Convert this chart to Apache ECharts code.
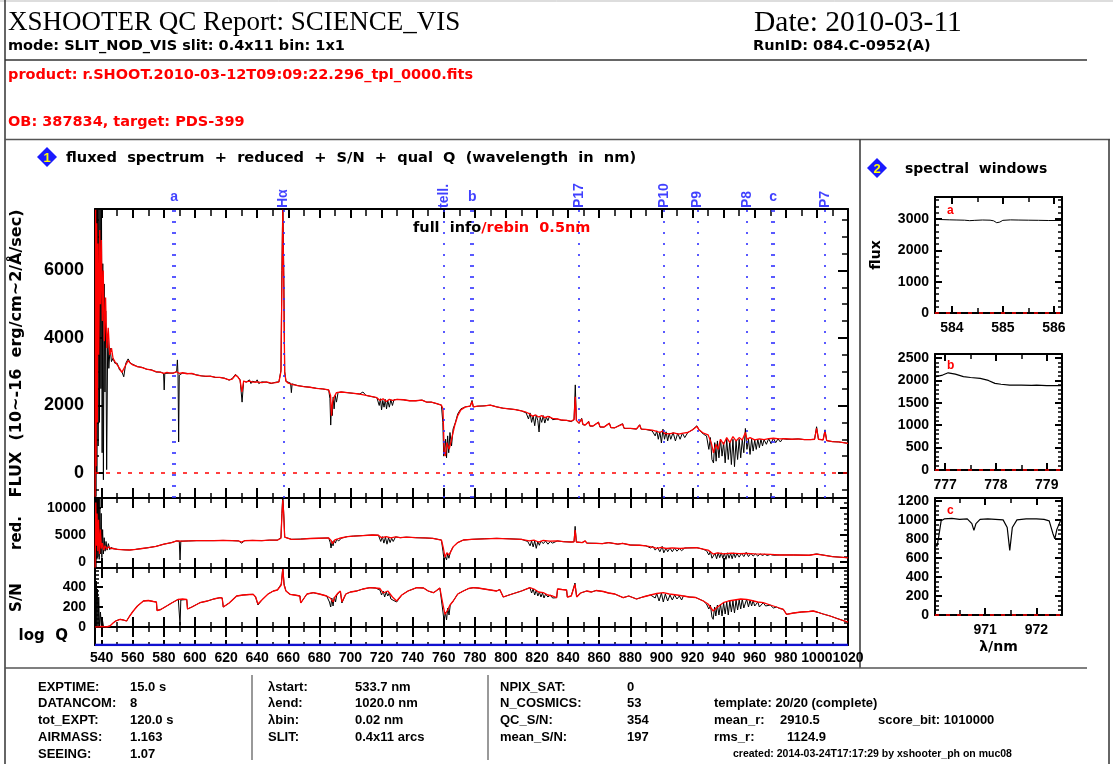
<!DOCTYPE html>
<html>

<head>
    <meta charset="utf-8">
    <title>XSHOOTER QC Report: SCIENCE_VIS</title>
    <script src="https://cdn.jsdelivr.net/npm/echarts@6.0.0/dist/echarts.min.js"></script>
</head>

<body style="margin:0;background:#fff">
    <div id="main" style="width:1113px;height:764px;"></div>
    <script type="text/javascript">
    // ----- data (wavelength nm, value)
    var fluxRebin = [
        [535.8, -700], [536.1, 7800], [536.4, 200], [536.8, 7400], [537.2, 1500], [537.6, 6800], [538.1, 3500], [538.7, 7200],
        [539.2, 5000], [539.8, 6900], [540.4, 4500], [541.0, 6000], [541.7, 3900], [542.5, 5200], [543.3, 3700], [544.2, 4300],
        [545.2, 3500], [546.3, 3700], [547.3, 3400], [548.5, 3300], [550, 3200], [551.5, 3100], [553, 2980], [554.2, 2950],
        [555.5, 3200], [557, 3330], [558.5, 3250], [560, 3200], [563, 3150], [566, 3120], [569, 3080], [572, 3050], [575, 3000],
        [578, 2980], [580, 2950], [582, 2980], [584, 2960], [586, 2960], [588, 3000], [590, 2950], [592, 2970], [595, 2940],
        [598, 2950], [601, 2900], [604, 2880], [607, 2870], [610, 2860], [613, 2840], [616, 2830], [619, 2800], [622, 2760],
        [624, 2780], [626, 2900], [627.5, 2850], [629, 2750], [630.2, 2400], [631.3, 2720], [633, 2700], [635, 2720], [637, 2690],
        [640, 2700], [643, 2680], [646, 2700], [649, 2660], [652, 2680], [654, 2700], [655.3, 3000], [655.9, 5500], [656.5, 7800],
        [657.1, 5500], [657.7, 3000], [658.5, 2720], [660, 2660], [663, 2620], [666, 2590], [670, 2560], [674, 2540], [678, 2510],
        [682, 2490], [686, 2460], [687.2, 2300], [687.8, 1700], [688.5, 2100], [689.5, 2250], [691, 2380], [694, 2400], [698, 2380],
        [702, 2360], [706, 2340], [710, 2300], [714, 2260], [717, 2230], [719, 2150], [721, 2200], [723, 2120], [725, 2180],
        [727, 2150], [730, 2180], [734, 2170], [738, 2140], [742, 2140], [746, 2160], [749, 2100], [752, 2100], [755, 2060],
        [758.5, 2010], [759.5, 1900], [760.3, 600], [761, 500], [762, 900], [763.5, 700], [765, 1000], [767, 1400], [769, 1700],
        [771, 1870], [774, 1960], [777, 1980], [778.2, 2120], [779, 1960], [782, 1980], [786, 1990], [790, 2010], [794, 1960],
        [798, 1920], [802, 1900], [806, 1880], [810, 1840], [813, 1800], [815, 1760], [817, 1680], [819, 1720], [821, 1660],
        [823, 1700], [825, 1640], [827, 1680], [830, 1620], [833, 1600], [836, 1570], [839, 1560], [842, 1540], [843.8, 1580],
        [844.6, 2260], [845.3, 1560], [847, 1480], [848.7, 1600], [849.5, 1450], [851, 1420], [853.2, 1520], [854, 1400],
        [856, 1390], [859.5, 1500], [860.5, 1370], [863, 1360], [866.5, 1470], [867.5, 1350], [870, 1340], [875, 1450], [876, 1330],
        [880, 1320], [884, 1310], [886, 1420], [887, 1300], [890, 1290], [894, 1270], [897, 1230], [899, 1200], [901, 1250],
        [902, 1170], [905, 1160], [908, 1190], [911, 1150], [914, 1180], [917, 1200], [920, 1280], [922.8, 1380], [924, 1290],
        [927, 1180], [930, 1130], [932, 900], [933.5, 600], [935, 850], [936.5, 700], [938, 1000], [940, 850], [942, 1050],
        [944, 900], [946, 1080], [948, 950], [950, 1050], [952, 980], [954, 1200], [955, 1000], [957, 1050], [960, 980],
        [963, 1010], [966, 990], [969, 1020], [972, 1030], [976, 1010], [980, 1020], [984, 1000], [988, 1010], [992, 990],
        [996, 990], [998.5, 1000], [999.8, 1320], [1001, 1000], [1004, 980], [1005.2, 1230], [1006.3, 960], [1010, 930],
        [1014, 920], [1017, 900], [1020, 880]
    ];
    var fluxFull = [
        [535.8, -700], [536.0, 9000], [536.3, -700], [536.6, 9000], [536.9, 0], [537.3, 9000], [537.7, 800], [538.2, 9000],
        [538.6, 1500], [539.0, 9000], [539.5, 2500], [539.9, 7700], [540.3, 600], [540.7, 6200], [541.1, -200], [541.6, 5600],
        [542.1, 2400], [542.6, 4800], [543.2, 100], [543.9, 4100], [544.6, 3100], [545.4, 3700], [546.3, 3300], [547.3, 3400],
        [548.5, 3250], [550, 3250], [551.5, 3050], [553, 3000], [554.2, 2850], [555.5, 3250], [557, 3380], [558.5, 3250],
        [560, 3220], [563, 3150], [566, 3130], [569, 3070], [572, 3060], [575, 2990], [578, 2990], [579.8, 2950], [580.2, 2460],
        [580.6, 2950], [584, 2960], [586, 2960], [588.2, 3000], [588.7, 3350], [589.1, 2900], [589.5, 920], [589.9, 2900],
        [592, 2960], [595, 2950], [598, 2940], [601, 2910], [604, 2880], [607, 2860], [610, 2870], [613, 2830], [616, 2830],
        [619, 2810], [622, 2750], [624, 2800], [626, 2920], [627.5, 2860], [629, 2760], [630.3, 2100], [631.3, 2720], [633, 2690],
        [635, 2760], [636, 2650], [637, 2720], [639, 2690], [640, 2760], [641, 2650], [643, 2700], [646, 2690], [649, 2650],
        [652, 2690], [654, 2700], [655.3, 3050], [655.9, 6000], [656.5, 8200], [657.1, 6000], [657.7, 3000], [658.5, 2720],
        [661.5, 2660], [662, 2380], [662.5, 2640], [666, 2590], [670, 2560], [674, 2540], [678, 2510], [682, 2490], [686, 2460],
        [686.8, 2200], [687.3, 1420], [687.8, 2000], [688.3, 1700], [688.9, 2250], [689.5, 1900], [690.2, 2300], [691, 2100],
        [692, 2380], [694, 2400], [698, 2380], [702, 2360], [706, 2340], [708, 2400], [710, 2300], [714, 2260], [717, 2230],
        [718.5, 2000], [719.3, 2200], [720, 1870], [720.8, 2150], [721.6, 1950], [722.4, 2180], [723.2, 1900], [724, 2150],
        [725, 1950], [726, 2170], [727, 2000], [728, 2170], [730, 2180], [734, 2170], [738, 2140], [742, 2140], [746, 2160],
        [749, 2100], [752, 2100], [755, 2060], [758.5, 2010], [759.4, 1500], [760, 500], [760.6, 444], [761.2, 1000],
        [761.8, 450], [762.5, 1100], [763.2, 600], [764, 1200], [765, 800], [766, 1300], [767.5, 1500], [769, 1750], [771, 1900],
        [774, 1960], [777, 1980], [778.2, 2150], [779, 1960], [782, 1980], [786, 1990], [790, 2010], [794, 1960], [798, 1920],
        [802, 1900], [806, 1880], [810, 1840], [813, 1780], [814.5, 1600], [815.5, 1780], [816.5, 1500], [817.5, 1700],
        [818.5, 1400], [819.5, 1720], [820.5, 1550], [821.3, 1215], [822, 1650], [823, 1500], [824, 1700], [825, 1480],
        [826, 1650], [827, 1550], [828, 1680], [830, 1580], [833, 1600], [836, 1560], [839, 1560], [842, 1520], [843.8, 1580],
        [844.6, 2610], [845.3, 1560], [847, 1470], [848.7, 1620], [849.5, 1430], [851, 1420], [853.2, 1530], [854, 1390],
        [856, 1390], [859.5, 1510], [860.5, 1360], [863, 1360], [866.5, 1480], [867.5, 1340], [870, 1340], [875, 1460],
        [876, 1320], [880, 1320], [884, 1300], [886, 1430], [887, 1300], [890, 1290], [894, 1250], [896, 1100], [897, 1250],
        [898, 1000], [899, 1220], [900, 889], [901, 1300], [902, 1000], [903, 1220], [904, 950], [905, 1180], [906, 1000],
        [907.5, 1200], [909, 950], [910.5, 1180], [912, 1000], [913.5, 1180], [915, 1050], [917, 1200], [920, 1280], [922.8, 1400],
        [924, 1290], [927, 1150], [929, 1100], [930.5, 700], [931.5, 1050], [932.5, 400], [933.5, 296], [934.3, 900], [935.2, 350],
        [936, 950], [937, 450], [938, 1000], [939, 500], [940, 900], [941, 300], [942, 1000], [943, 400], [944, 950], [945, 250],
        [946, 1000], [947, 188], [948, 950], [949, 400], [950, 1000], [951, 450], [952, 1000], [953, 600], [954, 1320], [955, 700],
        [956, 1000], [957, 550], [958, 1000], [959, 650], [960, 980], [961, 700], [962, 1000], [963, 750], [964, 1000], [965, 800],
        [966, 990], [967.5, 850], [969, 1020], [970.5, 870], [972, 1030], [973.5, 900], [975, 1010], [976.5, 920], [978, 1020],
        [980, 1000], [984, 1000], [988, 1010], [992, 990], [996, 990], [998.5, 1000], [999.8, 1370], [1001, 1000], [1004, 980],
        [1005.2, 1280], [1006.3, 960], [1010, 930], [1014, 920], [1017, 900], [1020, 880]
    ];
    var redRebin = [
        [535.8, -1000], [536.2, 11000], [536.6, 3000], [537.0, 9000], [537.5, 2000], [538.0, 7800], [538.6, 1500], [539.2, 6000],
        [539.8, 2500], [540.5, 3500], [541.3, 2200], [542.2, 3000], [543.2, 2400], [544.5, 2800], [546, 2500], [547.5, 2500],
        [550, 2350], [555, 2250], [558, 2220], [562, 2350], [566, 2500], [570, 2650], [575, 2900], [580, 3300], [585, 3600],
        [588.2, 3900], [592, 3850], [596, 3900], [601, 3950], [606, 3950], [612, 3950], [618, 4000], [624, 3950], [628, 3900],
        [630, 3700], [632, 3950], [637, 4000], [643, 3950], [648, 4050], [653, 4050], [655.3, 4400], [655.9, 8500], [656.5, 11500],
        [657.1, 8500], [657.7, 4600], [658.8, 4250], [662, 4200], [668, 4250], [674, 4350], [680, 4400], [686, 4450], [687.5, 4000],
        [688.5, 3400], [690, 4100], [693, 4400], [698, 4700], [702, 4800], [708, 4900], [714, 5000], [718, 4950], [720, 4500],
        [723, 4700], [726, 4450], [729, 4650], [732, 4500], [736, 4600], [742, 4500], [748, 4450], [753, 4380], [758.5, 4070],
        [759.8, 2500], [760.8, 900], [762, 1700], [763.5, 1300], [766, 2800], [769, 3600], [772.6, 4070], [778, 4200], [786, 4300],
        [794, 4380], [802, 4300], [810, 4200], [815, 3900], [818, 4050], [821, 3700], [824, 4000], [828, 3850], [833, 3900],
        [837, 3760], [842, 3700], [843.8, 3750], [844.5, 5930], [845.3, 3700], [849, 3600], [851, 3900], [852, 3500], [858, 3460],
        [862, 3400], [866, 3600], [867, 3350], [872, 3300], [875, 3450], [876, 3250], [880, 3150], [886, 3100], [890, 3000],
        [895, 2700], [897, 2530], [900, 2700], [903, 2500], [907, 2600], [912, 2500], [917, 2600], [922.7, 2650], [926, 2450],
        [930, 2200], [933.3, 1480], [936, 1700], [940, 1500], [945, 1650], [950, 1550], [955, 1610], [960, 1500], [965, 1450],
        [970, 1400], [976, 1300], [985, 1300], [995, 1250], [999.8, 1450], [1001, 1250], [1010, 1000], [1019, 800], [1020, 780]
    ];
    var redFull = [
        [535.8, -1100], [536.0, 14000], [536.3, -1100], [536.6, 14000], [536.9, 500], [537.2, 14000], [537.6, 1000], [538.0, 13000],
        [538.4, 500], [538.8, 12000], [539.2, 1500], [539.7, 9000], [540.1, 800], [540.6, 6000], [541.1, 1500], [541.6, 4500],
        [542.2, 2000], [542.8, 3800], [543.5, 2200], [544.3, 3400], [545.2, 2300], [546.2, 2700], [547.5, 2450], [550, 2350],
        [555, 2250], [558, 2220], [562, 2350], [566, 2500], [570, 2650], [575, 2900], [580, 3300], [585, 3600], [588.2, 3900],
        [589.9, 3850], [590.4, 370], [590.9, 3850], [596, 3900], [601, 3950], [606, 3950], [612, 3950], [618, 4000], [624, 3950],
        [628, 3900], [630, 3500], [632, 3950], [637, 4000], [643, 3950], [648, 4050], [653, 4050], [655.3, 4500], [655.9, 9000],
        [656.5, 12500], [657.1, 9000], [657.7, 4600], [658.8, 4250], [662, 4200], [668, 4250], [674, 4350], [680, 4400],
        [686, 4450], [687.0, 3600], [687.5, 2590], [688.2, 3800], [688.8, 3000], [689.5, 4000], [690.3, 3500], [691.2, 4200],
        [692.5, 3900], [694, 4400], [698, 4700], [702, 4800], [708, 4900], [714, 5000], [718, 4950], [719.5, 3800], [720.5, 4700],
        [721.5, 3500], [722.5, 4600], [723.5, 3300], [724.5, 4500], [725.5, 3600], [726.5, 4400], [727.5, 3800], [729, 4650],
        [732, 4500], [736, 4600], [742, 4500], [748, 4450], [753, 4380], [758.5, 4070], [759.5, 2000], [760.2, 370], [761, 1000],
        [761.8, 400], [762.5, 1500], [763.3, 700], [764.2, 1800], [765.2, 1500], [766, 2800], [769, 3600], [772.6, 4070],
        [778, 4200], [786, 4300], [794, 4380], [802, 4300], [810, 4200], [814, 3800], [815.5, 3000], [816.5, 3900], [817.5, 2800],
        [818.5, 3900], [819.5, 2530], [820.5, 3800], [821.5, 3100], [822.5, 3900], [824, 3400], [825.5, 3900], [827, 3300],
        [828.5, 3800], [830, 3500], [833, 3900], [837, 3760], [842, 3700], [843.8, 3750], [844.5, 6600], [845.3, 3700], [849, 3600],
        [851, 3900], [852, 3500], [858, 3460], [862, 3400], [866, 3600], [867, 3350], [872, 3300], [875, 3450], [876, 3250],
        [880, 3150], [886, 3100], [890, 3000], [893, 2600], [894.5, 2900], [896, 2200], [897.5, 2700], [899, 1900], [900.5, 2900],
        [901.5, 1700], [903, 2600], [904, 1900], [905.5, 2600], [907, 1900], [908.5, 2600], [910, 2000], [911.5, 2500],
        [913, 2100], [915, 2600], [917, 2600], [922.7, 2650], [926, 2450], [929, 2100], [930.5, 1300], [931.5, 2000], [932.5, 700],
        [933.5, 370], [934.5, 1600], [935.5, 600], [936.5, 1700], [937.5, 800], [938.5, 1700], [939.5, 700], [940.5, 1600],
        [941.5, 500], [942.5, 1700], [943.5, 700], [944.5, 1600], [945.5, 600], [946.5, 1700], [947.5, 800], [948.5, 1600],
        [950, 900], [951.5, 1600], [953, 1000], [954.5, 1800], [956, 1000], [957.5, 1600], [959, 1100], [960.5, 1500], [962, 1100],
        [963.5, 1500], [965, 1200], [966.5, 1450], [968, 1200], [970, 1400], [972, 1250], [976, 1300], [985, 1300], [995, 1250],
        [999.8, 1500], [1001, 1250], [1010, 1000], [1019, 800], [1020, 780]
    ];
    var snRebin = [
        [535.8, 0], [538, 0], [540, 5], [543, 0], [545.3, 10], [547.5, 43], [549, 60], [551.8, 77], [554, 70], [556, 60], [558, 110],
        [560.3, 160], [563, 210], [566.8, 260], [570, 265], [573.2, 255], [575.2, 250], [575.6, 165], [578, 175], [581.8, 210],
        [585, 240], [589.3, 277], [592, 280], [594.7, 275], [595.2, 180], [598, 200], [603.2, 243], [608, 260], [612, 280],
        [616.1, 293], [617.5, 290], [618.2, 200], [622, 240], [626.8, 310], [631, 320], [635, 325], [637.5, 327], [639, 300],
        [640.5, 230], [643, 270], [647, 330], [650.4, 360], [653, 370], [655.5, 420], [656.5, 580], [657.3, 420], [658.5, 360],
        [661.1, 327], [664, 320], [667.5, 310], [668, 240], [672, 330], [676.1, 343], [680, 330], [684.7, 310], [687, 290],
        [688.8, 250], [690, 300], [692, 340], [693.5, 360], [694.5, 250], [697, 330], [700, 350], [704, 360], [708, 380],
        [712.5, 393], [716, 390], [719, 385], [721, 340], [724, 360], [727, 300], [729.7, 260], [733, 320], [737, 360], [742.6, 393],
        [747, 390], [750, 360], [753.3, 343], [755, 360], [757.5, 390], [758.7, 377], [759.8, 200], [760.8, 127], [762.5, 170],
        [764, 220], [766.1, 260], [769, 330], [772.6, 360], [776, 385], [779, 393], [782, 390], [786, 380], [790, 370], [794, 360],
        [794.5, 380], [796, 375], [798.3, 300], [802, 320], [806, 340], [810, 360], [815.4, 393], [818, 380], [821, 350], [824, 343],
        [827, 320], [830, 310], [832.6, 293], [833.2, 380], [836, 375], [839, 370], [839.5, 300], [842, 310], [844.4, 427],
        [845.5, 300], [848, 340], [851.9, 360], [855, 350], [858, 365], [862.6, 355], [866, 340], [870, 330], [875.4, 293],
        [879, 310], [884, 280], [888, 300], [893, 320], [897, 335], [901.2, 343], [905, 330], [910, 320], [914.1, 310], [918, 300],
        [922, 295], [927, 260], [930, 230], [933.3, 160], [936, 200], [939.8, 243], [943, 260], [947, 270], [951, 280], [954.8, 277],
        [958, 265], [962, 250], [965.5, 243], [970, 220], [974, 200], [978.4, 177], [980.5, 127], [985, 140], [990, 150], [995, 155],
        [997.6, 160], [1000, 150], [1004, 130], [1008.5, 110], [1013, 85], [1019, 53], [1020, 50]
    ];
    var snFull = [
        [535.8, 0], [536.0, 520], [536.3, 0], [536.6, 460], [536.9, 0], [537.3, 380], [537.7, 0], [538.1, 300], [538.6, 0],
        [539.2, 150], [539.8, 0], [540.5, 70], [541.2, 0], [543, 0], [545.3, 10], [547.5, 43], [549, 60], [551.8, 77], [554, 70],
        [556, 60], [558, 110], [560.3, 160], [563, 210], [566.8, 260], [570, 265], [573.2, 255], [575.2, 250], [575.6, 165],
        [578, 175], [581.8, 210], [585, 240], [589.3, 277], [589.9, 270], [590.4, 20], [590.9, 270], [592, 280], [594.7, 275],
        [595.2, 180], [598, 200], [603.2, 243], [608, 260], [612, 280], [616.1, 293], [617.5, 290], [618.2, 200], [622, 240],
        [626.8, 310], [631, 320], [635, 325], [637.5, 327], [639, 300], [640.5, 220], [643, 270], [647, 330], [650.4, 360],
        [653, 370], [655.5, 430], [656.5, 600], [657.3, 430], [658.5, 360], [661.1, 327], [664, 320], [667.5, 310], [668, 240],
        [672, 330], [676.1, 343], [680, 330], [684.7, 310], [686.5, 250], [687.3, 200], [688, 290], [688.8, 210], [689.6, 300],
        [690.4, 250], [691.2, 320], [692, 300], [693.5, 360], [694.5, 240], [697, 330], [700, 350], [704, 360], [708, 380],
        [712.5, 393], [716, 390], [719, 370], [720, 320], [721, 360], [722, 300], [723, 350], [724, 310], [725, 340], [726, 280],
        [727, 300], [729.7, 250], [733, 320], [737, 360], [742.6, 393], [747, 390], [750, 360], [753.3, 343], [755, 360],
        [757.5, 390], [758.7, 377], [759.5, 150], [760.2, 60], [761, 150], [761.8, 70], [762.6, 190], [763.4, 120], [764.2, 220],
        [766.1, 260], [769, 330], [772.6, 360], [776, 385], [779, 393], [782, 390], [786, 380], [790, 370], [794, 360], [794.5, 380],
        [796, 375], [798.3, 300], [802, 320], [806, 340], [810, 360], [815.4, 393], [816.5, 340], [817.5, 380], [818.5, 320],
        [819.5, 370], [820.5, 310], [821.5, 350], [822.5, 300], [823.5, 340], [824.5, 290], [825.5, 330], [827, 300], [828.5, 320],
        [830, 290], [832.6, 293], [833.2, 380], [836, 375], [839, 370], [839.5, 300], [842, 310], [844.4, 440], [845.5, 300],
        [848, 340], [851.9, 360], [855, 350], [858, 365], [862.6, 355], [866, 340], [870, 330], [875.4, 293], [879, 310], [884, 280],
        [888, 300], [893, 320], [896, 290], [897, 335], [898.5, 260], [900, 340], [901.2, 250], [902.5, 330], [904, 260],
        [905.5, 320], [907, 270], [908.5, 320], [910, 280], [911.5, 310], [913, 270], [914.1, 310], [918, 300], [922, 295],
        [927, 260], [929, 230], [930.5, 180], [931.5, 220], [932.5, 100], [933.3, 77], [934.2, 200], [935, 110], [936, 220],
        [937, 120], [938, 230], [939, 110], [940, 240], [941, 130], [942, 250], [943, 120], [944, 260], [945, 150], [946, 260],
        [947, 140], [948, 270], [949, 170], [950, 270], [951, 180], [952, 280], [953, 190], [954.8, 277], [956, 200], [957, 270],
        [958, 210], [959, 265], [960, 210], [962, 250], [963, 200], [965.5, 243], [967, 210], [970, 220], [972, 190], [974, 200],
        [976, 185], [978.4, 177], [980.5, 127], [985, 140], [990, 150], [995, 155], [997.6, 160], [1000, 150], [1004, 130],
        [1008.5, 110], [1013, 85], [1019, 53], [1020, 50]
    ];
    var qualQ = [[535.7, 0], [1020, 0]];

    // line identifications along the top of the flux panel
    var markerWave = [585.6, 587.1, 656.8, 760.1, 777.3, 778.9, 847.0, 901.7, 923.1, 954.9, 970.9, 972.4, 1005.2];
    var lineName = ['a', 'Hα', 'tell.', 'b', 'P17', 'P10', 'P9', 'P8', 'c', 'P7'];
    var lineWave = [586.6, 656.8, 760.1, 778.4, 847.0, 901.7, 923.1, 954.9, 971.9, 1005.2];
    var lineRot = [0, 90, 90, 0, 90, 90, 90, 90, 0, 90];

    // spectral windows a, b, c
    var winA = [[583.68, 2985], [583.8, 2980], [583.95, 2972], [584.1, 2966], [584.25, 2960], [584.35, 2945], [584.45, 2955],
        [584.6, 2966], [584.75, 2960], [584.82, 2940], [584.88, 2880], [584.94, 2900], [585.0, 2955], [585.15, 2970],
        [585.3, 2965], [585.5, 2960], [585.7, 2956], [585.9, 2950], [586.15, 2950]];
    var winB = [[776.8, 2080], [776.95, 2120], [777.06, 2170], [777.2, 2140], [777.36, 2085], [777.5, 2065], [777.69, 2045],
        [777.85, 2000], [777.98, 1935], [778.1, 1915], [778.27, 1897], [778.5, 1895], [778.7, 1890], [778.8, 1895],
        [779.0, 1885], [779.3, 1882]];
    var winC = [[970.02, 760], [970.06, 720], [970.1, 850], [970.14, 990], [970.2, 1010], [970.35, 1015], [970.5, 1005],
        [970.65, 1010], [970.74, 960], [970.78, 890], [970.82, 960], [970.9, 1005], [971.05, 1010], [971.2, 1005],
        [971.35, 1000], [971.43, 920], [971.48, 680], [971.53, 920], [971.62, 1000], [971.8, 1010], [972.0, 1010],
        [972.15, 1005], [972.25, 990], [972.32, 860], [972.36, 800], [972.4, 900], [972.47, 990]];

    var NUM = '"Liberation Sans", Arial, sans-serif';
    var TXT = '"DejaVu Sans", sans-serif';
    var FLUX_MAX = 7820;

    var myChart = echarts.init(document.getElementById('main'));

    // one helper for every axis, most of them are just frame + ticks
    function ax(o) {
        var a = {
            type: 'value',
            gridIndex: o.grid,
            position: o.pos,
            min: o.min,
            max: o.max,
            axisLine: { show: true, onZero: false, lineStyle: { color: '#000', width: 2 } },
            axisTick: { show: !!o.tick, inside: true, length: o.tick || 0, lineStyle: { color: '#000', width: 2 } },
            minorTick: { show: !!o.minor, splitNumber: o.minorSplit || 2, length: o.minor || 0, lineStyle: { color: '#000', width: 1.5 } },
            splitLine: { show: false },
            minorSplitLine: { show: false },
            axisPointer: { show: false },
            axisLabel: { show: false }
        };
        if (o.interval) a.interval = o.interval;
        else a.splitNumber = o.split;
        if (o.step) {
            a.axisLabel = {
                show: true, color: '#000', fontFamily: NUM, fontWeight: 'bold', fontSize: o.fs || 14,
                margin: o.margin || 8, hideOverlap: false,
                formatter: function (v) {
                    var k = v / o.step;
                    return Math.abs(k - Math.round(k)) < 1e-6 ? String(Math.round(v)) : '';
                }
            };
        }
        if (o.name) {
            a.name = o.name;
            a.nameLocation = 'middle';
            a.nameGap = o.nameGap;
            a.nameRotate = o.nameRotate;
            a.nameTextStyle = { color: '#000', fontFamily: TXT, fontWeight: 'bold', fontSize: o.nameSize || 14 };
        }
        return a;
    }

    var X0 = 535.7, X1 = 1020;
    var xAxes = [
        ax({ grid: 0, pos: 'bottom', min: X0, max: X1, split: 24, tick: 10, minor: 5 }),
        ax({ grid: 0, pos: 'top', min: X0, max: X1, split: 24, tick: 9, minor: 7 }),
        ax({ grid: 1, pos: 'bottom', min: X0, max: X1, split: 24, tick: 10, minor: 5 }),
        ax({ grid: 1, pos: 'top', min: X0, max: X1, split: 24, tick: 10, minor: 5 }),
        ax({ grid: 2, pos: 'bottom', min: X0, max: X1, split: 24, tick: 10, minor: 5 }),
        ax({ grid: 2, pos: 'top', min: X0, max: X1, split: 24, tick: 10, minor: 5 }),
        ax({ grid: 3, pos: 'bottom', min: X0, max: X1, split: 24, tick: 5, minor: 3, step: 20, fs: 14, margin: 6 }),
        ax({ grid: 3, pos: 'top', min: X0, max: X1, split: 24, tick: 10, minor: 5 }),
        ax({ grid: 4, pos: 'bottom', min: 583.67, max: 586.16, split: 2, tick: 7, minor: 5, step: 1, margin: 8 }),
        ax({ grid: 4, pos: 'top', min: 583.67, max: 586.16, split: 2, tick: 7, minor: 5 }),
        ax({ grid: 5, pos: 'bottom', min: 776.8, max: 779.3, split: 2, tick: 7, minor: 5, step: 1, margin: 8 }),
        ax({ grid: 5, pos: 'top', min: 776.8, max: 779.3, split: 2, tick: 7, minor: 5 }),
        ax({ grid: 6, pos: 'bottom', min: 970.02, max: 972.5, split: 2, tick: 7, minor: 5, step: 1, margin: 8,
            name: 'λ/nm', nameGap: 25, nameSize: 14 }),
        ax({ grid: 6, pos: 'top', min: 970.02, max: 972.5, split: 2, tick: 7, minor: 5 })
    ];
    var yAxes = [
        ax({ grid: 0, pos: 'left', min: -740, max: FLUX_MAX, split: 4, tick: 8, minor: 4, minorSplit: 4, step: 2000, fs: 18, margin: 11,
            name: 'FLUX  (10~-16  erg/cm~2/Å/sec)', nameGap: 70, nameRotate: 90, nameSize: 16 }),
        ax({ grid: 0, pos: 'right', min: -740, max: FLUX_MAX, split: 4, tick: 10, minor: 6, minorSplit: 4 }),
        ax({ grid: 1, pos: 'left', min: -1110, max: 11850, split: 3, tick: 6, minor: 3, minorSplit: 5, step: 5000, fs: 14, margin: 9,
            name: 'red.', nameGap: 70, nameRotate: 90, nameSize: 15 }),
        ax({ grid: 1, pos: 'right', min: -1110, max: 11850, split: 3, tick: 8, minor: 4, minorSplit: 5 }),
        ax({ grid: 2, pos: 'left', min: 0, max: 590, interval: 200, tick: 8, minor: 4, minorSplit: 5, step: 200, fs: 14, margin: 9,
            name: 'S/N', nameGap: 70, nameRotate: 90, nameSize: 15 }),
        ax({ grid: 2, pos: 'right', min: 0, max: 590, interval: 200, tick: 8, minor: 4, minorSplit: 5 }),
        ax({ grid: 3, pos: 'left', min: 0, max: 1, interval: 1, name: 'log  Q', nameGap: 27, nameRotate: 0, nameSize: 15 }),
        ax({ grid: 3, pos: 'right', min: 0, max: 1, interval: 1 }),
        ax({ grid: 4, pos: 'left', min: 0, max: 3700, interval: 1000, tick: 7, minor: 4, minorSplit: 5, step: 1000, margin: 6,
            name: 'flux', nameGap: 52, nameRotate: 90, nameSize: 14 }),
        ax({ grid: 4, pos: 'right', min: 0, max: 3700, interval: 1000, tick: 7, minor: 4, minorSplit: 5 }),
        ax({ grid: 5, pos: 'left', min: 0, max: 2590, interval: 500, tick: 7, minor: 4, minorSplit: 5, step: 500, margin: 6 }),
        ax({ grid: 5, pos: 'right', min: 0, max: 2590, interval: 500, tick: 7, minor: 4, minorSplit: 5 }),
        ax({ grid: 6, pos: 'left', min: 0, max: 1230, interval: 200, tick: 7, minor: 4, minorSplit: 4, step: 200, margin: 6 }),
        ax({ grid: 6, pos: 'right', min: 0, max: 1230, interval: 200, tick: 7, minor: 4, minorSplit: 4 })
    ];

    function spec(g, data, color, width, z) {
        return {
            type: 'line', xAxisIndex: 2 * g, yAxisIndex: 2 * g, data: data, showSymbol: false, symbol: 'none',
            clip: true, z: z, silent: true, lineStyle: { color: color, width: width }
        };
    }
    function zeroLine(s) {
        s.markLine = {
            silent: true, symbol: ['none', 'none'], label: { show: false }, animation: false,
            lineStyle: { color: '#ff0000', type: [4, 7], width: 1.5, opacity: 1 },
            emphasis: { disabled: true },
            data: [{ yAxis: 0 }]
        };
        return s;
    }

    var fluxBlack = spec(0, fluxFull, '#000', 1, 2);
    fluxBlack.markLine = {
        silent: true, symbol: ['none', 'none'], label: { show: false }, animation: false,
        lineStyle: { color: '#3030ff', type: [2, 9], width: 1.6 },
        data: markerWave.map(function (w) { return { xAxis: w }; })
    };

    var series = [
        fluxBlack,
        zeroLine(spec(0, fluxRebin, '#ff0000', 1.3, 3)),
        spec(1, redFull, '#000', 1, 2),
        spec(1, redRebin, '#ff0000', 1.3, 3),
        spec(2, snFull, '#000', 1, 2),
        spec(2, snRebin, '#ff0000', 1.3, 3),
        spec(3, qualQ, '#1010d0', 2.5, 4),
        zeroLine(spec(4, winA, '#000', 1, 3)),
        zeroLine(spec(5, winB, '#000', 1.2, 3)),
        zeroLine(spec(6, winC, '#000', 1.2, 3)),
        {
            type: 'scatter', xAxisIndex: 0, yAxisIndex: 0, symbolSize: 0, clip: false, silent: true, z: 5,
            data: lineWave.map(function (w, i) {
                var rot = lineRot[i];
                return {
                    value: [w, FLUX_MAX],
                    label: rot ? { rotate: 90, align: 'left', verticalAlign: 'middle', distance: 1 }
                        : { distance: 5 }
                };
            }),
            label: {
                show: true, position: 'top', color: '#1010ff', fontFamily: NUM, fontWeight: 'bold', fontSize: 14,
                formatter: function (p) { return lineName[p.dataIndex]; }
            }
        }
    ];

    // ----- page furniture: header, footer, frames
    function txt(x, y, s, font, color, extra) {
        var st = { text: s, font: font, fill: color || '#000', verticalAlign: 'middle' };
        if (extra) for (var k in extra) st[k] = extra[k];
        return { type: 'text', x: x, y: y, silent: true, style: st };
    }
    function ln(x1, y1, x2, y2, c, w) {
        return { type: 'line', silent: true, shape: { x1: x1, y1: y1, x2: x2, y2: y2 }, style: { stroke: c || '#333', lineWidth: w || 1.5 } };
    }
    function badge(cx, cy, n) {
        return [
            { type: 'polygon', silent: true, shape: { points: [[cx, cy - 10], [cx + 10, cy], [cx, cy + 10], [cx - 10, cy]] }, style: { fill: '#1a1aff' } },
            txt(cx, cy + 1, n, 'bold 13px ' + NUM, '#ffff00', { align: 'center' })
        ];
    }
    var SERIF = '27px "Liberation Serif", serif';
    var HB = 'bold 14.5px ' + TXT;
    var FB = 'bold 13px ' + NUM;

    var footRows = [687, 703.5, 720, 737, 754];
    var col1 = ['EXPTIME:', 'DATANCOM:', 'tot_EXPT:', 'AIRMASS:', 'SEEING:'];
    var val1 = ['15.0 s', '8', '120.0 s', '1.163', '1.07'];
    var col2 = ['λstart:', 'λend:', 'λbin:', 'SLIT:'];
    var val2 = ['533.7 nm', '1020.0 nm', '0.02 nm', '0.4x11 arcs'];
    var col3 = ['NPIX_SAT:', 'N_COSMICS:', 'QC_S/N:', 'mean_S/N:'];
    var val3 = ['0', '53', '354', '197'];

    var graphic = [
        ln(0, 1, 1113, 1, '#bbb', 1),
        ln(5, 0, 5, 764, '#333', 1.5),
        ln(5, 60, 1087, 60, '#333', 1.5),
        ln(5, 139.5, 1110, 139.5, '#555', 1.5),
        ln(860, 139.5, 860, 668, '#333', 1.5),
        ln(1109, 139.5, 1109, 764, '#333', 1.5),
        ln(5, 668, 1087, 668, '#555', 1.5),
        ln(252, 675, 252, 760, '#555', 1.2),
        ln(488, 675, 488, 760, '#555', 1.2),
        txt(8, 23, 'XSHOOTER QC Report: SCIENCE_VIS', SERIF),
        txt(754, 23, 'Date: 2010-03-11', '29.5px "Liberation Serif", serif'),
        txt(8, 46, 'mode: SLIT_NOD_VIS slit: 0.4x11 bin: 1x1', HB),
        txt(753, 46, 'RunID: 084.C-0952(A)', HB),
        txt(8, 75, 'product: r.SHOOT.2010-03-12T09:09:22.296_tpl_0000.fits', HB, '#ff0000'),
        txt(8, 122, 'OB: 387834, target: PDS-399', HB, '#ff0000'),
        txt(66, 158, 'fluxed  spectrum  +  reduced  +  S/N  +  qual  Q  (wavelength  in  nm)', 'bold 14.6px ' + TXT),
        txt(905, 169, 'spectral  windows', 'bold 14px ' + TXT),
        {
            type: 'text', x: 413, y: 228, silent: true, z: 10,
            style: {
                text: '{k|full  info}{r|/rebin  0.5nm}', verticalAlign: 'middle',
                rich: {
                    k: { fill: '#000', font: 'bold 14.5px ' + TXT },
                    r: { fill: '#ff0000', font: 'bold 14.5px ' + TXT }
                }
            }
        },
        txt(947, 211, 'a', 'bold 12px ' + NUM, '#ff0000'),
        txt(947, 366, 'b', 'bold 12px ' + NUM, '#ff0000'),
        txt(947, 511, 'c', 'bold 12px ' + NUM, '#ff0000'),
        txt(714, 703.5, 'template: 20/20 (complete)', FB),
        txt(714, 720, 'mean_r:', FB),
        txt(780, 720, '2910.5', FB),
        txt(878, 720, 'score_bit: 1010000', FB),
        txt(714, 737, 'rms_r:', FB),
        txt(787, 737, '1124.9', FB),
        txt(733, 754, 'created: 2014-03-24T17:17:29 by xshooter_ph on muc08', 'bold 10.5px ' + NUM)
    ].concat(badge(47, 157, '1'), badge(877, 168, '2'));

    col1.forEach(function (s, i) { graphic.push(txt(38, footRows[i], s, FB), txt(130, footRows[i], val1[i], FB)); });
    col2.forEach(function (s, i) { graphic.push(txt(268, footRows[i], s, FB), txt(355, footRows[i], val2[i], FB)); });
    col3.forEach(function (s, i) { graphic.push(txt(500, footRows[i], s, FB), txt(627, footRows[i], val3[i], FB)); });

    var option = {
        animation: false,
        backgroundColor: '#fff',
        textStyle: { fontFamily: NUM },
        grid: [
            { left: 95, top: 209, width: 753, height: 289, outerBoundsMode: 'none' },
            { left: 95, top: 498, width: 753, height: 70, outerBoundsMode: 'none' },
            { left: 95, top: 568, width: 753, height: 59, outerBoundsMode: 'none' },
            { left: 95, top: 627, width: 753, height: 18, outerBoundsMode: 'none' },
            { left: 935, top: 197, width: 127, height: 116, outerBoundsMode: 'none' },
            { left: 935, top: 354, width: 127, height: 116, outerBoundsMode: 'none' },
            { left: 935, top: 498, width: 127, height: 117, outerBoundsMode: 'none' }
        ],
        xAxis: xAxes,
        yAxis: yAxes,
        series: series,
        graphic: graphic
    };

    myChart.setOption(option);
    </script>
</body>

</html>
